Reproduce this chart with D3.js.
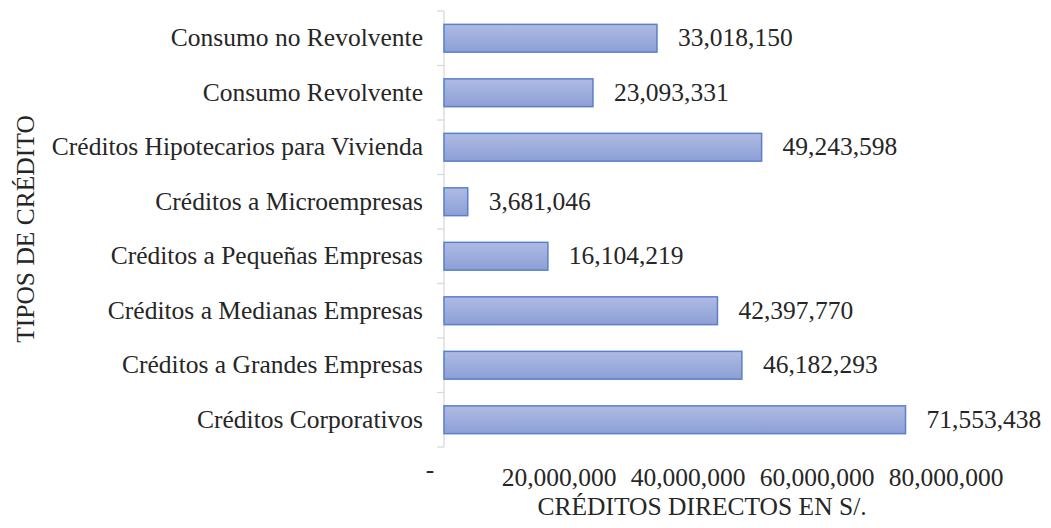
<!DOCTYPE html>
<html>
<head>
<meta charset="utf-8">
<script src="https://cdn.jsdelivr.net/npm/d3@7"></script>
<style>
  html, body { margin: 0; padding: 0; background: #ffffff; }
  svg { display: block; }
</style>
</head>
<body>
<svg id="chart" width="1051" height="528"></svg>
<script>
// Credit types, top to bottom
const categories = [
  "Consumo no Revolvente",
  "Consumo Revolvente",
  "Créditos Hipotecarios para Vivienda",
  "Créditos a Microempresas",
  "Créditos a Pequeñas Empresas",
  "Créditos a Medianas Empresas",
  "Créditos a Grandes Empresas",
  "Créditos Corporativos"
];
// Direct credits in S/.
const values = [33018150, 23093331, 49243598, 3681046, 16104219, 42397770, 46182293, 71553438];
// Value axis ticks
const xTicks = [0, 20000000, 40000000, 60000000, 80000000];
const xTitle = "CRÉDITOS DIRECTOS EN S/.";
const yTitle = "TIPOS DE CRÉDITO";

const svg = d3.select("#chart")
  .attr("font-family", "'Liberation Serif', 'Times New Roman', serif");
const fontSize = 25.5;
const textColor = "#262626";
const plot = { left: 444, right: 960, top: 11, bottom: 447 };

const x = d3.scaleLinear().domain([0, 80000000]).range([plot.left, plot.right]);
const y = d3.scaleBand().domain(categories).range([plot.top, plot.bottom]).paddingInner(0.49).paddingOuter(0.245);
const fmt = d3.format(",");

// Bar fill gradient
const defs = svg.append("defs");
const grad = defs.append("linearGradient").attr("id", "barFill")
  .attr("x1", 0).attr("y1", 0).attr("x2", 0).attr("y2", 1);
grad.append("stop").attr("offset", "0%").attr("stop-color", "#aebbe3");
grad.append("stop").attr("offset", "100%").attr("stop-color", "#8c9fd6");

// Category axis line with ticks at band boundaries
const bounds = d3.range(categories.length + 1).map(i => plot.top + i * (plot.bottom - plot.top) / categories.length);
const axisG = svg.append("g");
axisG.append("line")
  .attr("x1", plot.left).attr("x2", plot.left)
  .attr("y1", plot.top).attr("y2", plot.bottom)
  .attr("stroke", "#d9d9d9").attr("stroke-width", 1.3);
axisG.selectAll("line.tick").data(bounds).join("line")
  .attr("class", "tick")
  .attr("x1", plot.left - 7).attr("x2", plot.left)
  .attr("y1", d => d).attr("y2", d => d)
  .attr("stroke", "#d9d9d9").attr("stroke-width", 1.3);

// Category labels
svg.append("g").selectAll("text").data(categories).join("text")
  .attr("x", plot.left - 21)
  .attr("y", d => y(d) + y.bandwidth() / 2)
  .attr("dy", "0.32em")
  .attr("text-anchor", "end")
  .attr("font-size", fontSize)
  .attr("fill", textColor)
  .text(d => d);

// Bars
svg.append("g").selectAll("rect").data(values).join("rect")
  .attr("x", x(0))
  .attr("y", (d, i) => y(categories[i]))
  .attr("width", d => x(d) - x(0))
  .attr("height", y.bandwidth())
  .attr("fill", "url(#barFill)")
  .attr("stroke", "#5b7fcb")
  .attr("stroke-width", 1.5);

// Value labels
svg.append("g").selectAll("text").data(values).join("text")
  .attr("x", d => x(d) + 21)
  .attr("y", (d, i) => y(categories[i]) + y.bandwidth() / 2)
  .attr("dy", "0.32em")
  .attr("font-size", fontSize)
  .attr("fill", textColor)
  .text(d => fmt(d));

// Value axis labels (no axis line drawn)
svg.append("g").selectAll("text").data(xTicks).join("text")
  .attr("x", d => x(d) - 14)
  .attr("y", d => d === 0 ? 478 : 486)
  .attr("text-anchor", "middle")
  .attr("font-size", fontSize)
  .attr("fill", textColor)
  .text(d => d === 0 ? "-" : fmt(d));

// Axis titles
svg.append("text")
  .attr("x", (plot.left + plot.right) / 2)
  .attr("y", 515)
  .attr("text-anchor", "middle")
  .attr("font-size", fontSize)
  .attr("fill", textColor)
  .text(xTitle);

svg.append("text")
  .attr("transform", `translate(34,${(plot.top + plot.bottom) / 2}) rotate(-90)`)
  .attr("text-anchor", "middle")
  .attr("font-size", fontSize)
  .attr("fill", textColor)
  .text(yTitle);
</script>
</body>
</html>
